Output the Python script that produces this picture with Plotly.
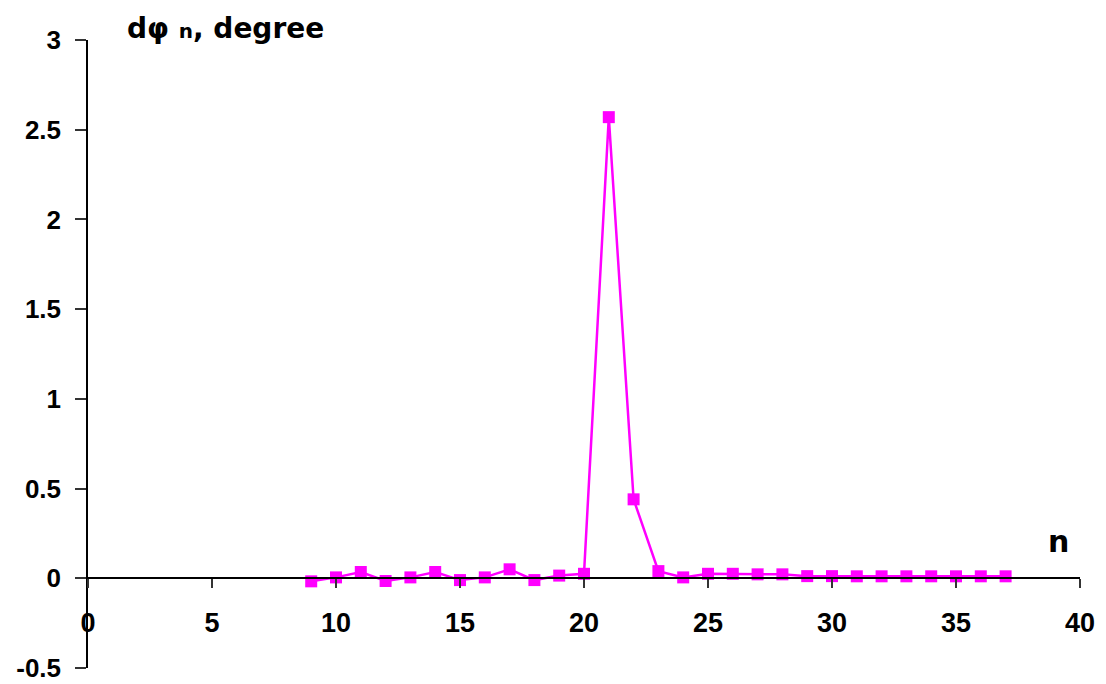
import plotly.graph_objects as go

# Phase deviation per element index
n_values = list(range(9, 38))
dphi_deg = [
    -0.017, 0.005, 0.035, -0.015, 0.005, 0.035, -0.01, 0.005, 0.05, -0.01,
    0.015, 0.025, 2.57, 0.44, 0.04, 0.005, 0.025, 0.025, 0.022, 0.022,
    0.012, 0.012, 0.011, 0.011, 0.011, 0.011, 0.011, 0.011, 0.011,
]

x_ticks = [0, 5, 10, 15, 20, 25, 30, 35, 40]
y_ticks = [-0.5, 0, 0.5, 1, 1.5, 2, 2.5, 3]
y_tick_text = ["-0.5", "0", "0.5", "1", "1.5", "2", "2.5", "3"]

Y_MIN, Y_MAX = -0.5, 3.0
TICK_FONT = "Liberation Sans"
TITLE_FONT = "DejaVu Sans"

# plot area in pixels
L, R, T, B = 88, 26, 40, 16
W, H = 1106, 684
PW, PH = W - L - R, H - T - B

fig = go.Figure()
fig.add_trace(go.Scatter(
    x=n_values, y=dphi_deg,
    mode="lines+markers",
    line=dict(color="#FF00FF", width=2.5),
    marker=dict(symbol="square", size=12, color="#FF00FF", line=dict(width=0)),
    cliponaxis=False,
    showlegend=False,
))

fig.update_layout(
    width=W, height=H,
    margin=dict(l=L, r=R, t=T, b=B, autoexpand=False),
    paper_bgcolor="white", plot_bgcolor="white",
    font=dict(family=TICK_FONT, size=26, color="black"),
    xaxis=dict(
        range=[0, 40], tickvals=x_ticks,
        anchor="free", position=(0 - Y_MIN) / (Y_MAX - Y_MIN),
        showline=True, linecolor="black", linewidth=1.5,
        ticks="outside", ticklen=9, tickwidth=1.5, tickcolor="#333",
        ticklabelstandoff=12,
        showgrid=False, zeroline=False,
        tickfont=dict(family=TICK_FONT, size=27, weight="bold"),
    ),
    yaxis=dict(
        range=[Y_MIN, Y_MAX], tickvals=y_ticks, ticktext=y_tick_text,
        showline=True, linecolor="black", linewidth=1.5,
        ticks="outside", ticklen=11, tickwidth=1.5, tickcolor="#333",
        ticklabelstandoff=9, ticklabeloverflow="allow",
        showgrid=False, zeroline=False,
        tickfont=dict(family=TICK_FONT, size=26, weight="bold"),
    ),
    annotations=[
        dict(
            text="dφ <span style='font-size:20px'>n</span>, degree",
            xref="paper", yref="paper", x=(125 - L) / PW, y=(H - B - 28) / PH,
            xanchor="left", yanchor="middle", showarrow=False,
            font=dict(family=TITLE_FONT, size=28, weight="bold"),
        ),
        dict(
            text="n",
            xref="paper", yref="paper", x=(1058 - L) / PW, y=(H - B - 541) / PH,
            xanchor="center", yanchor="middle", showarrow=False,
            font=dict(family=TITLE_FONT, size=30, weight="bold"),
        ),
    ],
)

fig.write_html("out.html")
